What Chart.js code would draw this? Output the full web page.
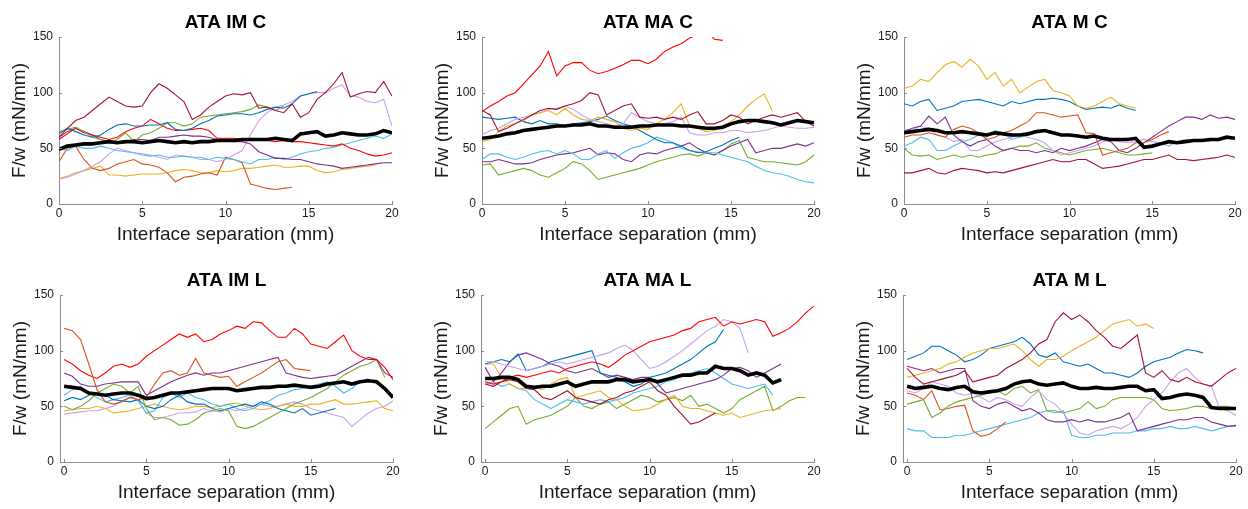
<!DOCTYPE html>
<html>
<head>
<meta charset="utf-8">
<script src="https://cdn.jsdelivr.net/npm/chart.js@4.4.1/dist/chart.umd.min.js"></script>
<style>
  html, body { margin: 0; padding: 0; background: #fff; }
  body { position: relative; width: 1248px; height: 509px; overflow: hidden; }
  canvas { position: absolute; }
</style>
</head>
<body>
<script>
// interface separation (mm), sampled every 0.5 mm
const separation = [0,0.5,1,1.5,2,2.5,3,3.5,4,4.5,5,5.5,6,6.5,7,7.5,8,8.5,9,9.5,10,10.5,11,11.5,12,12.5,13,13.5,14,14.5,15,15.5,16,16.5,17,17.5,18,18.5,19,19.5,20];
const xTicks = [0, 5, 10, 15, 20];
const yTicks = [0, 50, 100, 150];

// ATA IM C
const imcMean     = [49,52,53,54,54,55,56,55,56,56, 55,56,57,56,55,56,55,56,56,57, 57,57,58,58,58,58,59,58,57,63, 64,65,61,62,64,63,62,62,63,66, 64];
const imcDarkRed  = [60,68,75,78,84,90,96,92,88,87, 88,100,108,104,98,92,76,80,87,92, 97,99,98,100,86,87,84,82,90,78, 82,94,100,108,118,96,99,101,100,110, 97];
const imcBlue     = [63,68,65,62,60,62,67,71,72,70, 70,71,71,73,67,66,68,72,75,79, 80,81,81,80,82,85,87,86,90,97, 99,101];
const imcGreen    = [65,67,69,65,60,58,55,58,64,56, 62,64,68,73,73,70,72,78,79,80, 81,82,83,85,89,87,84,88];
const imcRed      = [58,63,68,64,62,60,58,60,65,68, 70,76,72,68,66,66,67,68,66,59, 59,59,58,58,58,57,56,57,56,56, 55,54,53,52,54,50,48,45,43,44, 46];
const imcPurple   = [60,65,68,65,62,58,56,55,55,58, 58,57,60,60,61,62,61,61,60,58, 57,56,56,54,47,44,41,41,40,40, 38,36,35,34,32,33,34,35,36,37, 37];
const imcLightBlue= [50,48,52,50,50,52,50,48,47,46, 44,43,44,42,42,43,42,42,40,42, 41,40,38,36,40,40,42,40,42,45, 47,48,50,51,53,55,57,59,61,59, 63];
const imcLilac    = [22,24,27,30,34,38,45,50,48,46, 45,44,42,40,44,43,42,40,40,38, 40,44,48,62,75,82,87,89,92,97, 99,100,100,104,107,97,96,92,91,94, 70];
const imcOrange   = [38,50,52,40,32,30,32,36,38,40, 36,35,33,28,20,24,25,27,28,26, 42,40,37,18,16,14,13,14,15];
const imcYellow   = [23,25,28,30,32,34,26,26,25,26, 27,27,27,28,30,31,30,28,28,30, 29,30,32,32,33,34,35,33,33,34, 34,30,28,29,31,32,33,34,35];

// ATA MA C
const macMean     = [59,60,61,63,64,66,67,68,69,70, 70,71,71,72,70,70,69,69,69,70, 70,71,71,71,70,70,69,68,68,69, 72,74,75,75,74,73,71,73,75,74, 73];
const macRed      = [83,88,92,97,100,108,116,124,137,115, 124,127,127,120,117,119,122,125,129,129, 126,130,137,141,144,149,152,156,148,147];
const macDarkRed  = [84,80,65,68,72,76,80,84,86,85, 88,90,93,100,98,80,84,88,90,78, 77,78,76,78,76,80,83,72,72,75, 80,78,72,75,78,80,78,80,82,74, 70];
const macYellow   = [56,58,65,70,72,75,80,82,84,80, 86,80,76,75,78,76,74,68,66,68, 67,72,76,82,90,70,68,65,66,70, 74,80,88,94,99,83];
const macLilac    = [62,66,68,72,76,78,80,82,85,86, 88,85,80,76,74,72,70,72,82,78, 74,72,72,74,78,64,62,62,64,64, 66,66,64,65,66,68,70,69,68,68, 69];
const macBlue     = [78,77,76,77,78,74,72,75,72,72, 70,72,73,74,76,79,75,72,70,66, 62,58,55,55,52,48,46,47,50,53, 57,60];
const macLightBlue= [40,45,45,42,40,42,45,47,48,45, 48,45,40,40,45,48,41,46,50,52, 55,60,58,55,50,48,47,46,46,44, 42,40,38,34,30,28,27,25,22,20, 19];
const macPurple   = [38,38,40,38,36,36,37,40,42,44, 45,46,48,50,44,46,45,40,38,44, 46,45,48,50,52,55,50,46,44,48, 52,55,58,46,48,50,50,52,54,52, 55];
const macGreen    = [35,36,26,28,30,32,30,26,24,28, 32,38,36,30,22,24,26,28,30,32, 35,38,40,42,44,45,43,46,44,48, 54,57,42,40,38,38,37,36,35,38, 44];

// ATA M C
const mcMean      = [64,65,66,67,66,64,64,65,64,63, 62,64,63,62,62,63,65,66,64,62, 62,61,60,61,59,58,58,58,59,51, 52,54,56,55,56,57,57,58,58,60, 59];
const mcYellow    = [104,106,112,110,118,125,128,123,130,124, 112,118,106,112,100,105,110,112,102,100, 97,88,86,88,92,96,90,88,86];
const mcBlue      = [90,88,92,94,84,86,88,92,93,94, 92,90,88,92,90,92,94,94,95,94, 92,88,85,86,87,86,89,86,84];
const mcOrange    = [60,62,62,64,62,60,67,70,68,64, 58,60,64,66,70,74,82,82,80,78, 79,80,64,63,44,46,48,50,55,55, 58,62,65];
const mcPurple    = [65,68,70,79,72,78,62,56,52,56, 58,52,48,50,48,48,46,48,46,50, 48,50,52,55,58,56,48,46,50,55, 60,65,70,74,78,78,76,80,77,78, 76];
const mcLilac     = [67,66,70,68,62,60,56,58,48,48, 52,56,58,60,62,60,58,55,48,44, 46,48,50,52,56,58,56,55,56,58, 56,55,52,56,58,56,58,56];
const mcLightBlue = [52,55,60,58,48,48,52,56,58,62, 60,66,64,58,60,62,64];
const mcGreen     = [50,44,43,44,40,42,44,42,44,42, 44,45,48,50,52,52,55,50,48,46, 44,46,48,49,50,48,46,44,44,45, 46];
const mcDarkRed   = [28,28,30,32,28,27,30,32,31,30, 28,29,28,30,32,34,36,38,40,38, 38,40,40,36,32,33,34,36,38,40, 40,42,44,40,40,39,40,41,42,44, 42];

// ATA IM L
const imlMean     = [68,67,66,62,61,60,61,62,62,60, 57,58,60,62,62,63,64,65,66,66, 66,64,65,66,67,67,68,68,69,68, 67,68,70,71,72,70,72,73,72,66, 58];
const imlOrange   = [120,118,110,88,65,54,52,54,58,56, 58,70,80,82,78,80,93,80,78,76, 77,68,72,76,80,85,90,92,84,83, 82];
const imlRed      = [92,88,82,78,75,80,86,88,85,88, 95,100,105,110,115,112,115,108,110,115, 118,122,120,126,125,118,112,112,120,115, 106,104,102,108,114,100,95,92,92,85, 74];
const imlPurple   = [80,77,70,68,68,70,71,72,72,72, 60,64,68,72,75,78,80,78,80,80, 82,84,86,88,90,92,94,80,78,76, 75,76,77,78,82,86,90,94,92,80, 76];
const imlGreen    = [50,47,50,55,62,66,70,68,62,68, 48,38,40,38,33,34,38,44,46,48, 46,32,30,32,36,40,44,48,52,55, 58,62,66,72,78,82,86,88,92,76];
const imlBlue     = [55,58,56,60,62,60,56,55,54,56, 50,48,50,56,60,54,52,52,48,46, 48,50,52,50,54,52,48,46,44,48, 42,44,46,48];
const imlLightBlue= [60,65,68,62,58,54,56,58,60,55, 44,46,58,62,58,62,58,56,52,50, 52,48,46,48,52,55,60,62,65,66, 68,70,72,68,62,66,72,75];
const imlYellow   = [46,47,48,48,50,48,44,45,46,48, 50,52,50,48,47,48,50,50,49,50, 52,53,50,48,47,48,50,52,50,50, 52,52,54,56,52,52,53,54,55,48, 46];
const imlLilac    = [43,44,45,46,46,48,50,55,58,56, 44,40,40,42,44,44,45,48,46,45, 48,46,48,50,52,50,50,52,54,52, 48,46,44,42,40,32,38,44,48,50, 55];

// ATA MA L
const malMean     = [75,75,76,76,74,68,67,68,68,70, 72,68,70,72,72,72,74,74,72,73, 74,72,74,76,78,78,80,80,86,84, 84,82,78,80,78,71,74];
const malRed      = [72,70,72,76,78,76,78,80,82,80, 84,86,88,90,88,85,90,96,100,104, 108,110,112,114,118,120,126,128,130,122, 126,124,126,128,126,113,116,120,126,134, 140];
const malLilac    = [90,90,88,86,84,82,84,86,88,90, 88,90,92,94,96,98,102,105,100,92, 84,86,90,95,100,106,112,118,122,128, 126,120,98];
const malBlue     = [88,90,92,90,97,82,84,86,90,92, 94,96,98,100,80,78,76,72,68,70, 76,78,80,84,88,92,98,104,108,119];
const malPurple   = [85,72,80,90,96,98,95,92,88,86, 82,80,82,84,80,76,78,76,74,76, 76,70,62,64,66,68,70,72,74,78, 84,85,82,76,80,84,88];
const malDarkRed  = [70,68,72,74,72,66,65,58,56,60, 64,58,56,54,52,56,58,62,64,68, 72,64,60,50,42,34,36,40,44];
const malYellow   = [88,88,76,70,66,66,68,65,70,74, 76,58,60,62,64,58,56,50,46,47, 48,52,56,60,50,48,48,46,44,42, 44,40,42,44,46,47,48];
const malLightBlue= [70,72,68,70,66,64,56,52,48,52, 56,54,52,54,56,54,56,58,62,64, 66,68,72,74,78,80,82,84,80,75, 70,68,66,68,70,60];
const malGreen    = [30,36,42,48,50,34,38,40,42,46, 50,58,50,48,52,54,48,52,56,60, 58,54,56,58,55,60,50,52,48,44, 48,56,60,64,68,46,50,55,58,58];

// ATA M L
const mlMean      = [68,66,67,68,66,65,67,68,63,62, 63,64,66,70,72,73,70,69,70,71, 68,66,66,67,66,66,67,68,68,64, 65,57,58,60,61,60,58,49,48,48, 48];
const mlDarkRed   = [84,76,70,72,74,76,78,82,72,74, 76,78,84,88,92,98,106,110,126,134, 128,132,126,118,112,104,102,108,114,80, 76,82,74,72,76,72,70,68,74,80, 84];
const mlYellow    = [76,78,80,82,84,88,90,94,98,100, 102,102,104,106,100,92,86,92,92,95, 100,104,108,112,118,124,126,128,122,124, 120];
const mlBlue      = [92,95,98,104,104,100,96,90,92,96, 102,104,106,108,112,106,96,94,98,90, 88,86,88,84,80,80,78,76,80,86, 90,92,94,98,101,100,98];
const mlPurple    = [86,84,82,84,80,82,84,84,55,50, 48,52,54,50,46,48,44,38,36,36, 38,36,38,36,36,38,40,44,28,30, 32,34,36,38,38,40,40,36,34,32, 33];
const mlLilac     = [64,62,66,72,70,68,62,60,62,58, 54,58,56,52,50,58,64,56,52,44, 34,26,24,28,30,32,30,34,40,50, 56,62,72,80,84,76,70,68,48,46, 42];
const mlGreen     = [52,54,56,40,44,50,54,56,58,60, 62,64,60,66,68,62,65,46,46,44, 46,48,54,48,50,56,58,58,58,58, 56,48,46,47,48,50,50,48,50,50, 48];
const mlOrange    = [62,60,56,64,47,48,50,51,28,23, 25,30,36];
const mlLightBlue = [30,28,28,22,22,22,24,24,26,28, 30,32,34,36,38,40,44,46,44,46, 24,22,22,24,24,26,26,26,28,28, 30,30,32,30,30,32,30,28,30,32, 32];

const colors = {
  mean: '#000000', blue: '#0072BD', orange: '#D95319', yellow: '#EDB120',
  purple: '#7E2F8E', green: '#77AC30', lightBlue: '#4DBEEE', darkRed: '#A2142F',
  red: '#FF0000', lilac: '#C9A0F0'
};

// area = [left, top, width, height] of the plot box in page pixels
const panels = [
  { title: 'ATA IM C', xMin: 0, area: [59, 37, 333, 167], lines: [
    ['mean', imcMean], ['darkRed', imcDarkRed], ['blue', imcBlue], ['green', imcGreen], ['red', imcRed],
    ['purple', imcPurple], ['lightBlue', imcLightBlue], ['lilac', imcLilac], ['orange', imcOrange], ['yellow', imcYellow]] },
  { title: 'ATA MA C', xMin: 0, area: [482, 37, 332, 167], lines: [
    ['mean', macMean], ['red', macRed], ['darkRed', macDarkRed], ['yellow', macYellow], ['lilac', macLilac],
    ['blue', macBlue], ['lightBlue', macLightBlue], ['purple', macPurple], ['green', macGreen]] },
  { title: 'ATA M C', xMin: 0, area: [904, 37, 331, 167], lines: [
    ['mean', mcMean], ['yellow', mcYellow], ['blue', mcBlue], ['orange', mcOrange], ['purple', mcPurple],
    ['lilac', mcLilac], ['lightBlue', mcLightBlue], ['green', mcGreen], ['darkRed', mcDarkRed]] },
  { title: 'ATA IM L', xMin: -0.25, area: [60, 295, 333, 167], lines: [
    ['mean', imlMean], ['orange', imlOrange], ['red', imlRed], ['purple', imlPurple], ['green', imlGreen],
    ['blue', imlBlue], ['lightBlue', imlLightBlue], ['yellow', imlYellow], ['lilac', imlLilac]] },
  { title: 'ATA MA L', xMin: -0.25, area: [481, 295, 333, 167], lines: [
    ['mean', malMean], ['red', malRed], ['lilac', malLilac], ['blue', malBlue], ['purple', malPurple],
    ['darkRed', malDarkRed], ['yellow', malYellow], ['lightBlue', malLightBlue], ['green', malGreen]] },
  { title: 'ATA M L', xMin: -0.25, area: [903, 295, 333, 167], lines: [
    ['mean', mlMean], ['darkRed', mlDarkRed], ['yellow', mlYellow], ['blue', mlBlue], ['purple', mlPurple],
    ['lilac', mlLilac], ['green', mlGreen], ['orange', mlOrange], ['lightBlue', mlLightBlue]] }
];

const tickFont = { family: "'Liberation Sans Narrow', 'Liberation Sans', Arial, sans-serif", size: 12 };
const labelFont = { family: "'Liberation Sans', Arial, sans-serif", size: 19 };
const axisColor = '#8c8c8c';
const textColor = '#1a1a1a';

// MATLAB-style ticks pointing into the plot box
const innerTicks = {
  id: 'innerTicks',
  afterDraw(chart) {
    const { ctx, chartArea: a, scales: { x, y } } = chart;
    ctx.save();
    ctx.strokeStyle = axisColor;
    ctx.lineWidth = 1;
    ctx.beginPath();
    xTicks.forEach(v => {
      const px = Math.round(x.getPixelForValue(v)) + 0.5;
      ctx.moveTo(px, a.bottom);
      ctx.lineTo(px, a.bottom - 3);
    });
    yTicks.forEach(v => {
      const py = Math.round(y.getPixelForValue(v)) + 0.5;
      ctx.moveTo(a.left, py);
      ctx.lineTo(a.left + 3, py);
    });
    ctx.stroke();
    ctx.restore();
  }
};

panels.forEach(p => {
  const [left, top, w, h] = p.area;
  const cw = 59 + w + 14;
  const ch = 37 + h + 46;
  const canvas = document.createElement('canvas');
  canvas.width = cw;
  canvas.height = ch;
  canvas.style.left = (left - 59) + 'px';
  canvas.style.top = (top - 37) + 'px';
  canvas.style.width = cw + 'px';
  canvas.style.height = ch + 'px';
  document.body.appendChild(canvas);

  new Chart(canvas.getContext('2d'), {
    type: 'line',
    data: {
      datasets: p.lines.map(([key, values]) => ({
        data: values.map((v, i) => ({ x: separation[i], y: v })),
        borderColor: colors[key],
        borderWidth: key === 'mean' ? 3.6 : 1.1,
        pointRadius: 0,
        tension: 0,
        fill: false
      }))
    },
    options: {
      responsive: false,
      animation: false,
      layout: { padding: { left: 0, right: 14, top: 0, bottom: 0 } },
      plugins: {
        legend: { display: false },
        tooltip: { enabled: false },
        title: {
          display: true,
          text: p.title,
          fullSize: false,
          color: '#000',
          font: { family: "'Liberation Sans', Arial, sans-serif", size: 19, weight: 'bold' },
          padding: { top: 11, bottom: 3.2 }
        }
      },
      scales: {
        x: {
          type: 'linear',
          min: p.xMin,
          max: 20,
          grid: { display: false, drawTicks: false },
          border: { display: true, color: axisColor, width: 1 },
          afterBuildTicks: s => { s.ticks = xTicks.map(v => ({ value: v })); },
          afterFit: s => { s.height = 46; },
          ticks: { font: tickFont, color: textColor, padding: 2, maxRotation: 0, autoSkip: false },
          title: { display: true, text: 'Interface separation (mm)', font: labelFont, color: textColor, padding: { top: 0, bottom: 3.6 } }
        },
        y: {
          type: 'linear',
          min: 0,
          max: 150,
          grid: { display: false, drawTicks: false },
          border: { display: true, color: axisColor, width: 1 },
          afterBuildTicks: s => { s.ticks = yTicks.map(v => ({ value: v })); },
          afterFit: s => { s.width = 59; },
          ticks: { font: tickFont, color: textColor, padding: 6 },
          title: { display: true, text: 'F/w (mN/mm)', font: labelFont, color: textColor, padding: { top: 8.6, bottom: 0 } }
        }
      }
    },
    plugins: [innerTicks]
  });
});
</script>
</body>
</html>
